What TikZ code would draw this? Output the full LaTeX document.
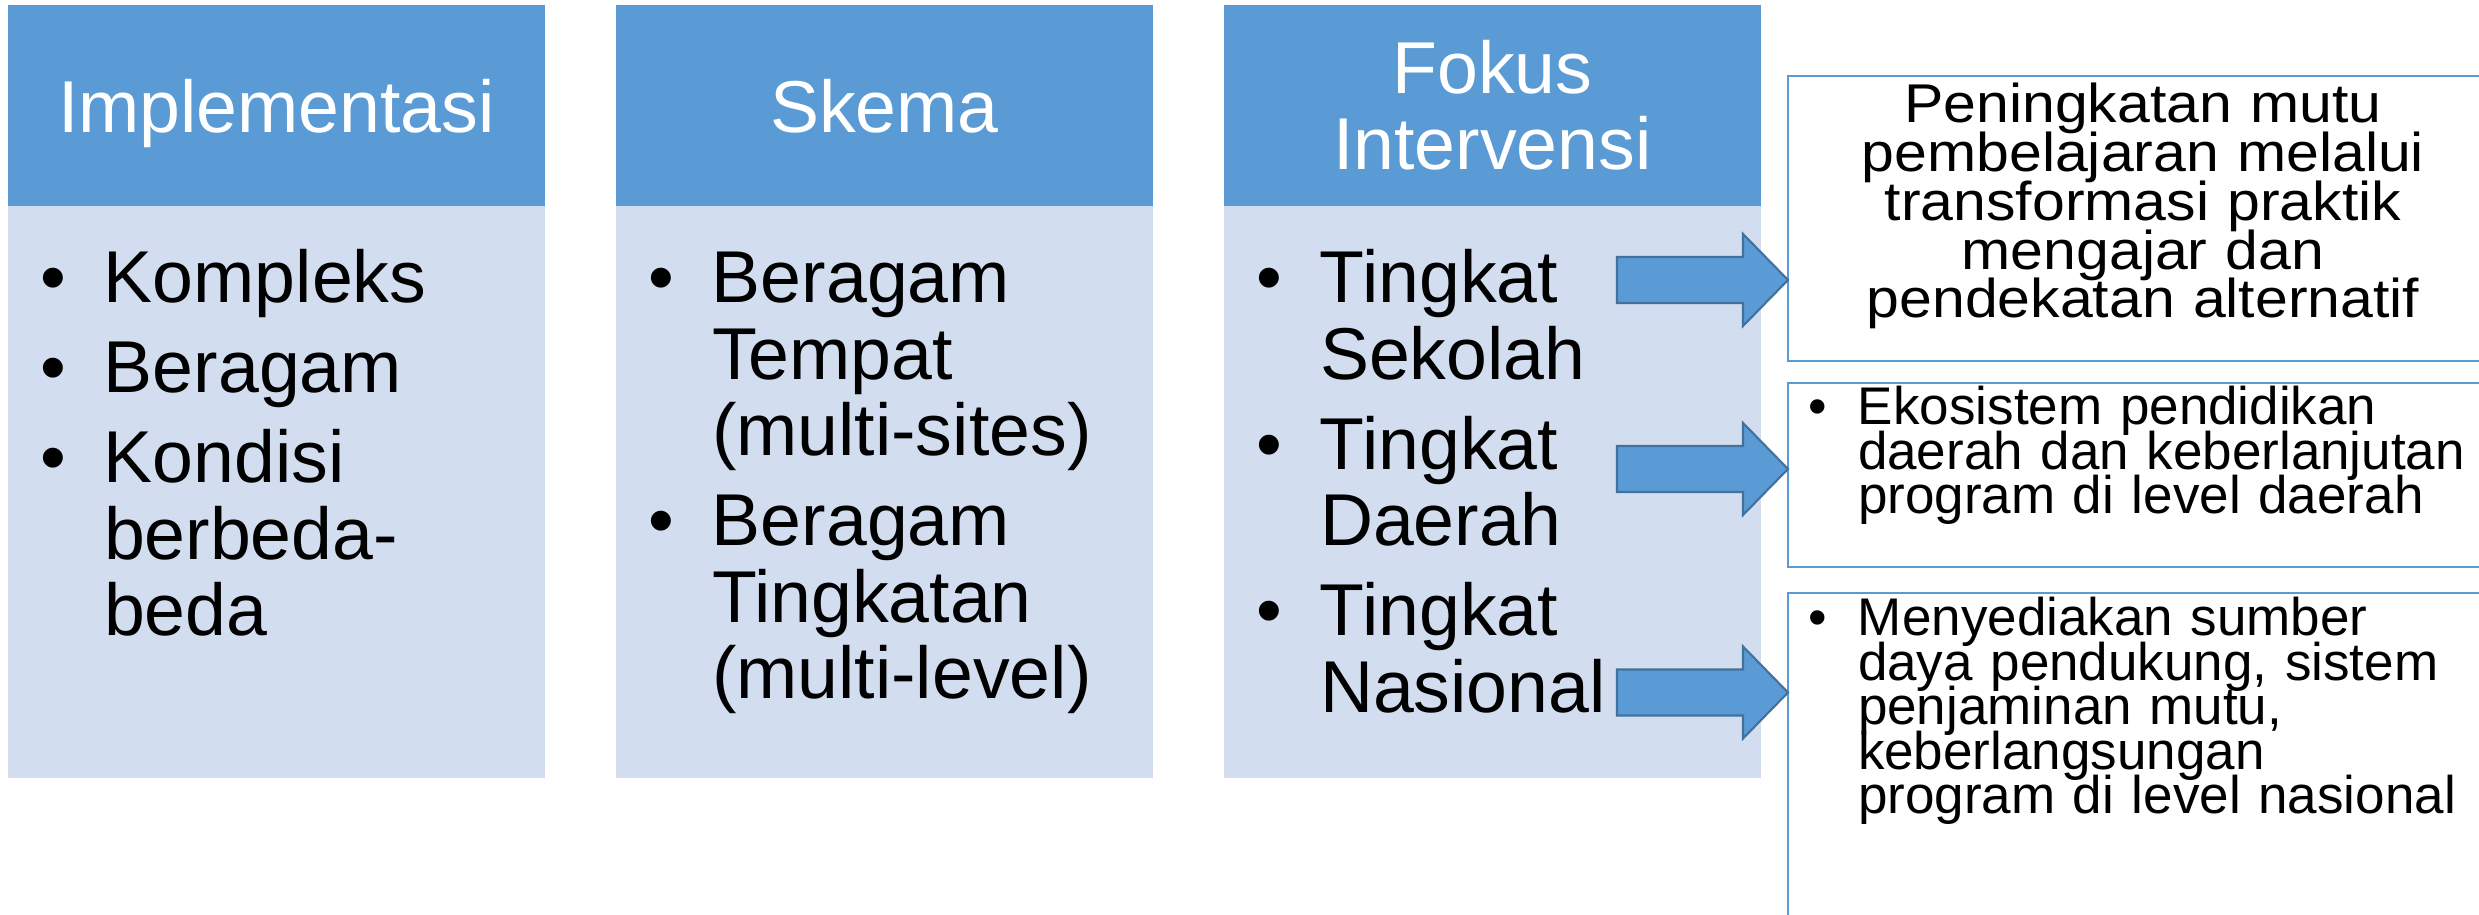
\documentclass[tikz,border=0pt]{standalone}
\usepackage{fontspec}
\setmainfont{Liberation Sans}
\newfontfamily\notefont[FakeStretch=1.08]{Liberation Sans}
\usepackage{xcolor}
\usetikzlibrary{calc, positioning}

\definecolor{hdblue}{HTML}{5B9BD5}
\definecolor{bdblue}{HTML}{D2DEEF}
\definecolor{arrline}{HTML}{41719C}

\newcommand{\colfont}{\fontsize{20.9}{21.77}\selectfont}
\newcommand{\notelarge}{\notefont\fontsize{15.54}{13.86}\selectfont\lineskiplimit=-20pt}
\newcommand{\notesmall}{\fontsize{15.08}{12.63}\selectfont\lineskiplimit=-20pt}
% bullet items: column bodies and note boxes
\newcommand{\itm}{\leftskip=0.96cm\leavevmode\llap{\textbullet\hspace{0.38cm}}}
\newcommand{\nxt}{\par\vspace{3.84pt}}
\newcommand{\nitm}{\leftskip=0.70cm\leavevmode\llap{\textbullet\hspace{0.305cm}}}

\begin{document}
\begin{tikzpicture}[inner sep=0pt, outer sep=0pt,
    head node/.style={rectangle,fill=hdblue,text=white,minimum width=5.37cm,minimum height=2.01cm,align=center,font=\colfont},
    body node/.style={rectangle,fill=bdblue,minimum width=5.37cm,minimum height=5.72cm},
    item text/.style={anchor=base west,text width=5.37cm,align=left,font=\colfont},
    note box/.style={rectangle,draw=hdblue,line width=0.6pt,minimum width=7.2cm},
    note text/.style={anchor=base west,text width=7cm,align=left,font=\notesmall},
    block arrow/.style={draw=arrline,fill=hdblue,line width=0.6pt,
      to path={($(\tikztostart)+(0,0.23)$) -- ($(\tikztotarget)+(-0.45,0.23)$) -- ($(\tikztotarget)+(-0.45,0.46)$) -- (\tikztotarget) -- ($(\tikztotarget)+(-0.45,-0.46)$) -- ($(\tikztotarget)+(-0.45,-0.23)$) -- ($(\tikztostart)+(0,-0.23)$) -- cycle}}]

  \useasboundingbox (0,0) rectangle (24.79,9.15);

  \node[head node, anchor=north west, text depth=0pt] (h1) at (0.08,9.10) {Implementasi};
  \node[head node, text depth=0pt] (h2) [right=0.71cm of h1] {Skema};
  \node[head node] (h3) [right=0.71cm of h2] {Fokus\\Intervensi};

  \node[body node] (b1) [below=0pt of h1] {};
  \node[body node] (b2) [below=0pt of h2] {};
  \node[body node] (b3) [below=0pt of h3] {};

  \node[item text] (t1) at ($(b1.north west)+(0,-0.966)$) {\itm Kompleks\nxt\itm Beragam\nxt\itm Kondisi\\berbeda-\\beda\par};
  \node[item text] (t2) at ($(b2.north west)+(0,-0.966)$) {\itm Beragam\\Tempat\\(multi-sites)\nxt\itm Beragam\\Tingkatan\\(multi-level)\par};
  \node[item text] (t3) at ($(b3.north west)+(0,-0.966)$) {\itm Tingkat\\Sekolah\nxt\itm Tingkat\\Daerah\nxt\itm Tingkat\\Nasional\par};

  \node[note box, anchor=north west, minimum height=2.85cm] (r1) at (17.88,8.39) {};
  \node[note box, minimum height=1.84cm] (r2) [below=0.22cm of r1] {};
  \node[note box, minimum height=4cm] (r3) [below=0.26cm of r2] {};

  \node[note text, anchor=base, align=center, font=\notelarge] (n1) at ($(r1.north west)+(3.55,-0.47)$) {Peningkatan mutu\\pembelajaran melalui\\transformasi praktik\\mengajar dan\\pendekatan alternatif};
  \node[note text] (n2) at ($(r2.north west)+(0,-0.42)$) {\nitm Ekosistem pendidikan\\daerah dan keberlanjutan\\program di level daerah\par};
  \node[note text] (n3) at ($(r3.north west)+(0,-0.43)$) {\nitm Menyediakan sumber\\daya pendukung, sistem\\penjaminan mutu,\\keberlangsungan\\program di level nasional\par};

  \coordinate (s1) at (16.17,6.35);
  \coordinate (s2) at (16.17,4.46);
  \coordinate (s3) at (16.17,2.225);

  \draw[block arrow] (s1) to (r1.west |- s1);
  \draw[block arrow] (s2) to (r2.west |- s2);
  \draw[block arrow] (s3) to (r3.west |- s3);
\end{tikzpicture}
\end{document}
